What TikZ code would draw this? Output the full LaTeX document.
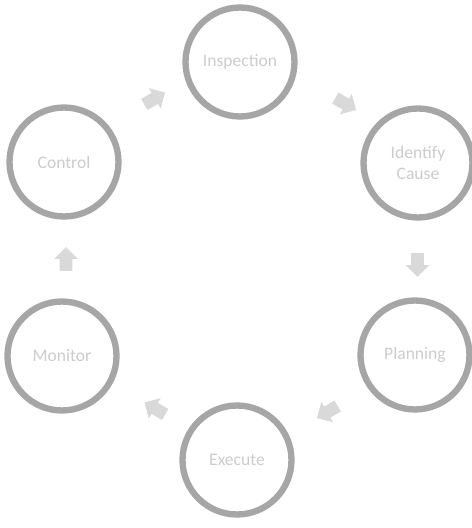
\documentclass[tikz,border=0pt]{standalone}
\usepackage{fontspec}
\setmainfont{Carlito}
\usetikzlibrary{shapes.arrows,calc}

\tikzset{
    stage/.style={circle,draw=gray!70,line width=3.6pt,minimum size=2.18cm,
        align=center,text=gray!40,font=\normalsize},
    flow/.style={single arrow,draw=gray!30,fill=gray!30,minimum height=0.46cm,
        inner sep=3.2pt,single arrow head extend=2.8pt,single arrow head indent=0pt}
}

\begin{document}
\begin{tikzpicture}[x=0.02cm,y=0.02cm]
    \useasboundingbox (0,0) rectangle (472,528);

    \node[stage] (insp) at (240,466) {Inspection};
    \node[stage] (cause) at (418,365) {Identify\\Cause};
    \node[stage] (plan) at (415,173) {Planning};
    \node[stage] (exec) at (237,68) {Execute};
    \node[stage] (mon) at (62,172) {Monitor};
    \node[stage] (ctrl) at (64,366) {Control};

    \node[flow,rotate=-30] (f1) at ($(insp)!0.5!(cause)+(14,10)$) {};
    \node[flow,rotate=-90] (f2) at ($(cause)!0.5!(plan)+(1,-3)$) {};
    \node[flow,rotate=-150] (f3) at ($(plan)!0.5!(exec)+(4,-3)$) {};
    \node[flow,rotate=150] (f4) at ($(exec)!0.5!(mon)+(8,-2)$) {};
    \node[flow,rotate=90] (f5) at ($(mon)!0.5!(ctrl)+(3,-3)$) {};
    \node[flow,rotate=30] (f6) at ($(ctrl)!0.5!(insp)+(0,12)$) {};
\end{tikzpicture}
\end{document}
